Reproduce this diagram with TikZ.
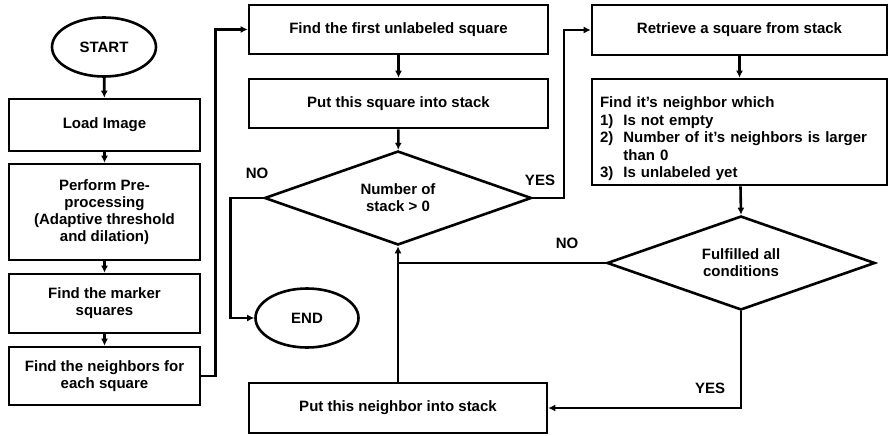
\documentclass[tikz,border=0pt]{standalone}
\usepackage{fontspec}
\setmainfont{Liberation Sans}
\usetikzlibrary{shapes.geometric,arrows.meta}

\begin{document}
\begin{tikzpicture}[x=1pt,y=-1pt,line width=2.6pt,>={Latex[length=7pt,width=7pt]},
  font=\fontsize{15}{17}\selectfont\bfseries,
  box/.style={draw,rectangle,inner sep=0pt,align=center},
  term/.style={draw,ellipse,inner sep=0pt,minimum width=104pt,minimum height=59pt},
  test/.style={draw,diamond,inner sep=0pt,aspect=2.8,align=center,minimum width=267pt,minimum height=94pt},
  flow/.style={->}]
  \useasboundingbox (0,0) rectangle (889,436);
  % left column
  \node[term] (start) at (104,47) {START};
  \node[box,minimum width=191pt,minimum height=52pt] (load) at (104.5,125) {Load Image};
  \node[box,minimum width=191pt,minimum height=96pt] (pre) at (104.5,212)
    {Perform Pre-\\processing\\(Adaptive threshold\\and dilation)};
  \node[box,minimum width=191pt,minimum height=59pt] (marker) at (104.5,303.5)
    {Find the marker\\squares};
  \node[box,minimum width=191pt,minimum height=58pt] (nbrs) at (104.5,376)
    {Find the neighbors for\\each square};
  % middle column
  \node[box,minimum width=299pt,minimum height=49pt] (first) at (398.5,29.5)
    {Find the first unlabeled square};
  \node[box,minimum width=299pt,minimum height=49pt] (push) at (398.5,103.5)
    {Put this square into stack};
  \node[test] (cnt) at (398,198) {Number of\\stack > 0};
  \node[term,minimum width=103pt] (end) at (307,318) {END};
  \node[box,minimum width=298pt,minimum height=50pt] (pushn) at (398,408)
    {Put this neighbor into stack};
  % right column
  \node[box,minimum width=295pt,minimum height=106pt,text width=279pt,align=left,
    font=\fontsize{15}{17.5}\selectfont\bfseries] (find) at (739.5,132)
    {\raisebox{-7pt}[\height][\depth]{%
     \begin{tabular}{@{}l@{\hspace{10pt}}l@{}}
      \multicolumn{2}{@{}l@{}}{Find it's neighbor which}\\
      1) & Is not empty\\
      2) & Number of it's neighbors is larger\\
         & than 0\\
      3) & Is unlabeled yet
     \end{tabular}}};
  \node[box,minimum width=295pt,minimum height=50pt] (pop) at (739.5,30)
    {Retrieve a square from stack};
  \node[test,minimum width=268pt] (ok) at (741,263) {Fulfilled all\\conditions};
  % branch labels
  \node (cntno) at (257,173) {NO};
  \node (cntyes) at (540,180) {YES};
  \node (okno) at (567,243) {NO};
  \node (okyes) at (710,388) {YES};
  % connectors
  \draw[flow] (start) -- (load);
  \draw[flow] (load) -- (pre);
  \draw[flow] (pre) -- (marker);
  \draw[flow] (marker) -- (nbrs);
  \draw[flow] (nbrs.east) -- ++(14,0) |- (first.west);
  \draw[flow] (first) -- (push);
  \draw[flow] (push) -- (cnt);
  \draw[flow] (cnt.west) -- ++(-33,0) |- (end.west);
  \draw[flow] (cnt.east) -- ++(31,0) |- (pop.west);
  \draw[flow] (pop) -- (find);
  \draw[flow] (find) -- (ok.north);
  \draw[flow] (ok.south) |- (pushn.east);
  \draw[flow] (pushn) -- (cnt.south);
  \draw (ok.west) -- (ok.west -| cnt.south);
\end{tikzpicture}
\end{document}
